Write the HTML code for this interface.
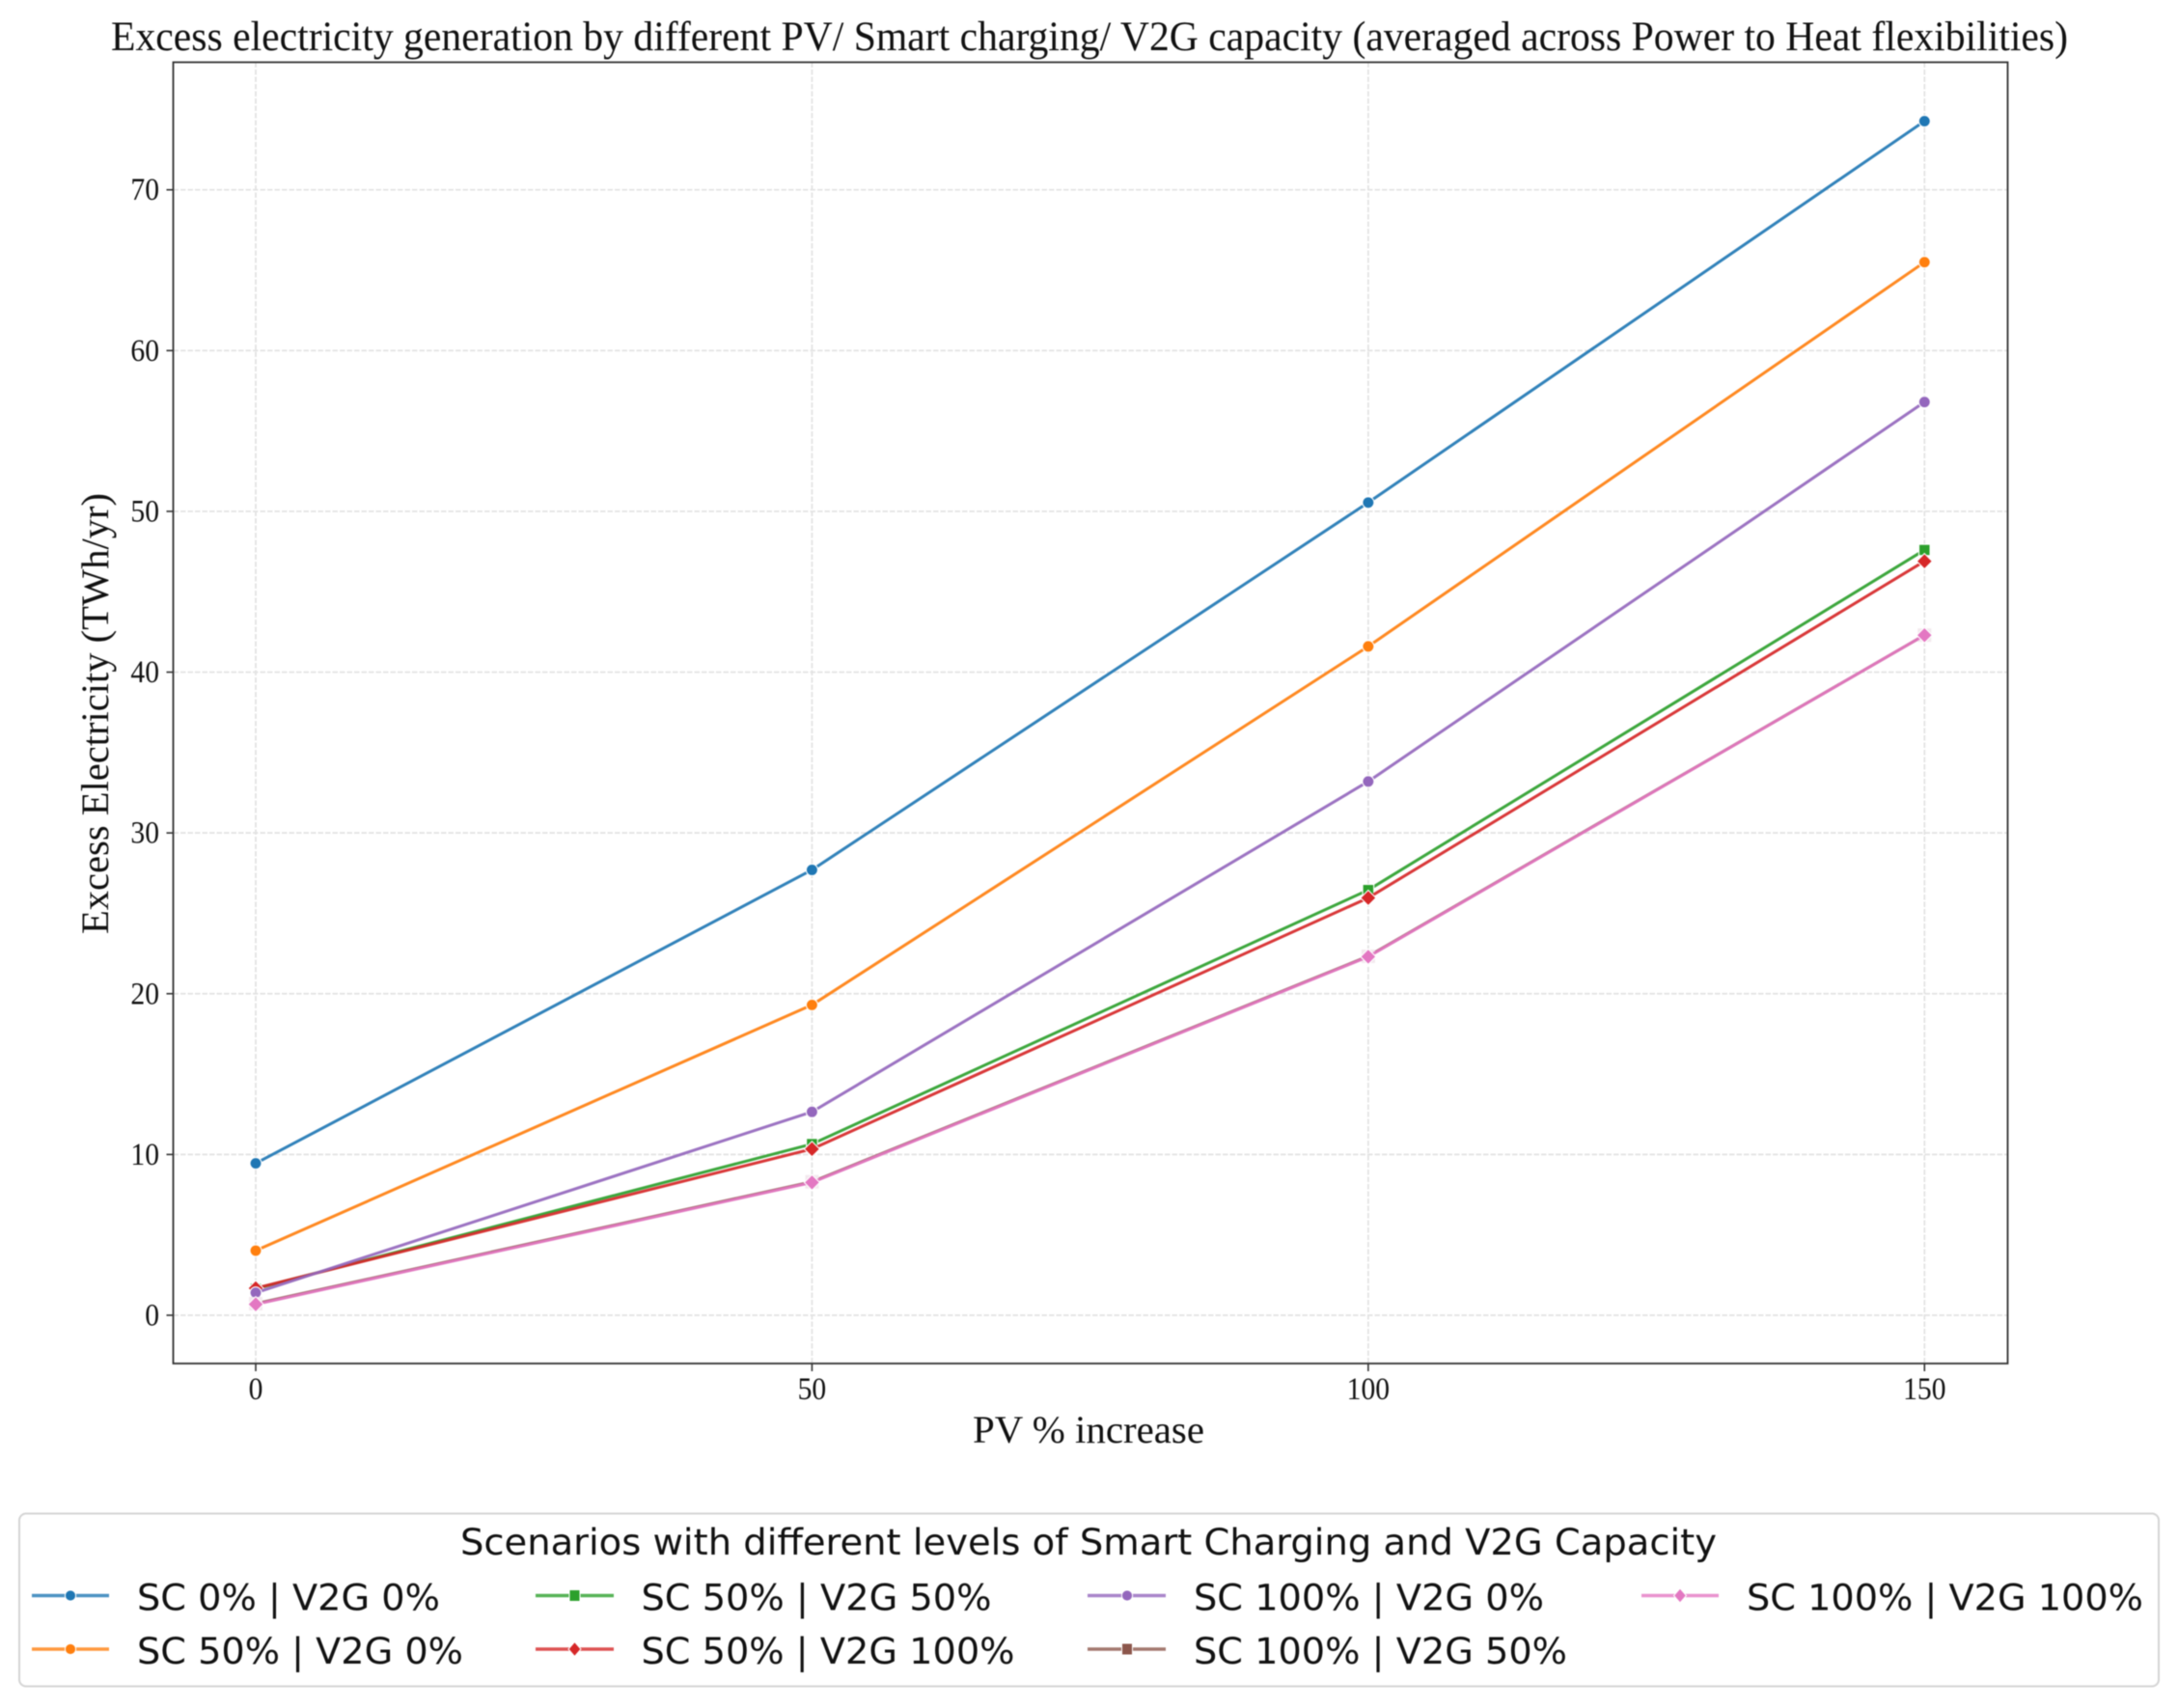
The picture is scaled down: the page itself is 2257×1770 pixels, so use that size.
<!DOCTYPE html>
<html lang="en">
<head>
<meta charset="utf-8">
<title>Excess electricity generation chart</title>
<style>
html,body{margin:0;padding:0;background:#fff;}
body{width:2257px;height:1770px;overflow:hidden;}
#chart{display:block;filter:blur(0.6px);}
.serif{font-family:"Liberation Serif","DejaVu Serif",serif;fill:#111;}
.sans{font-family:"DejaVu Sans","Liberation Sans",sans-serif;fill:#111;}
.legend-text{font-size:37px;}
</style>
</head>
<body>
<svg id="chart" xmlns="http://www.w3.org/2000/svg" width="2257" height="1770" viewBox="0 0 2257 1770">
  <rect x="0" y="0" width="2257" height="1770" fill="#fff"/>
  <text class="serif" x="115" y="52" font-size="43" textLength="2028" lengthAdjust="spacingAndGlyphs">Excess electricity generation by different PV/ Smart charging/ V2G capacity (averaged across Power to Heat flexibilities)</text>
  <g id="grid"></g>
  <g id="series"></g>
  <rect x="179.5" y="64.5" width="1901" height="1348.5" fill="none" stroke="#333" stroke-width="1.8"/>
  <g id="ticks"></g>
  <text class="serif" x="1008" y="1495" font-size="40" textLength="240" lengthAdjust="spacingAndGlyphs">PV % increase</text>
  <text class="serif" transform="translate(112 968) rotate(-90)" x="0" y="0" font-size="40" textLength="457" lengthAdjust="spacingAndGlyphs">Excess Electricity (TWh/yr)</text>

  <g>
    <rect x="20" y="1568.5" width="2217" height="179" rx="7" ry="7" fill="#fff" stroke="#d4d4d4" stroke-width="2"/>
    <text class="sans" x="477" y="1611" font-size="37.5" textLength="1302" lengthAdjust="spacingAndGlyphs">Scenarios with different levels of Smart Charging and V2G Capacity</text>

    <g>
      <line x1="33" x2="113" y1="1653.5" y2="1653.5" stroke="#1f77b4" stroke-width="3.6" stroke-opacity="0.8"/>
      <circle cx="73" cy="1653.5" r="5.6" fill="#1f77b4" stroke="#fff" stroke-width="1"/>
      <text class="sans legend-text" x="142" y="1668.5" textLength="314" lengthAdjust="spacingAndGlyphs">SC 0% | V2G 0%</text>
    </g>
    <g>
      <line x1="33" x2="113" y1="1709" y2="1709" stroke="#ff7f0e" stroke-width="3.6" stroke-opacity="0.8"/>
      <circle cx="73" cy="1709" r="5.6" fill="#ff7f0e" stroke="#fff" stroke-width="1"/>
      <text class="sans legend-text" x="142" y="1724" textLength="338" lengthAdjust="spacingAndGlyphs">SC 50% | V2G 0%</text>
    </g>
    <g>
      <line x1="555" x2="636" y1="1653.5" y2="1653.5" stroke="#2ca02c" stroke-width="3.6" stroke-opacity="0.8"/>
      <rect x="590" y="1647.5" width="11" height="12" fill="#2ca02c" stroke="#fff" stroke-width="1"/>
      <text class="sans legend-text" x="664.5" y="1668.5" textLength="363" lengthAdjust="spacingAndGlyphs">SC 50% | V2G 50%</text>
    </g>
    <g>
      <line x1="555" x2="636" y1="1709" y2="1709" stroke="#d62728" stroke-width="3.6" stroke-opacity="0.8"/>
      <polygon points="595.5,1701.5 602,1709 595.5,1716.5 589,1709" fill="#d62728" stroke="#fff" stroke-width="1"/>
      <text class="sans legend-text" x="664.5" y="1724" textLength="387" lengthAdjust="spacingAndGlyphs">SC 50% | V2G 100%</text>
    </g>
    <g>
      <line x1="1127" x2="1208" y1="1653.5" y2="1653.5" stroke="#9467bd" stroke-width="3.6" stroke-opacity="0.8"/>
      <circle cx="1168" cy="1653.5" r="5.6" fill="#9467bd" stroke="#fff" stroke-width="1"/>
      <text class="sans legend-text" x="1237" y="1668.5" textLength="363" lengthAdjust="spacingAndGlyphs">SC 100% | V2G 0%</text>
    </g>
    <g>
      <line x1="1127" x2="1208" y1="1709" y2="1709" stroke="#8c564b" stroke-width="3.6" stroke-opacity="0.8"/>
      <rect x="1162.5" y="1703" width="11" height="12" fill="#8c564b" stroke="#fff" stroke-width="1"/>
      <text class="sans legend-text" x="1237" y="1724" textLength="387" lengthAdjust="spacingAndGlyphs">SC 100% | V2G 50%</text>
    </g>
    <g>
      <line x1="1701" x2="1781" y1="1653.5" y2="1653.5" stroke="#e377c2" stroke-width="3.6" stroke-opacity="0.8"/>
      <polygon points="1741,1646 1747.5,1653.5 1741,1661 1734.5,1653.5" fill="#e377c2" stroke="#fff" stroke-width="1"/>
      <text class="sans legend-text" x="1810" y="1668.5" textLength="411" lengthAdjust="spacingAndGlyphs">SC 100% | V2G 100%</text>
    </g>
  </g>
</svg>
<script>
const categories = [0, 50, 100, 150];
const xTickLabels = ["0", "50", "100", "150"];
const yTickValues = [0, 10, 20, 30, 40, 50, 60, 70];
const yTickLabels = ["0", "10", "20", "30", "40", "50", "60", "70"];
const sc0V2g0 = [9.45, 27.7, 50.55, 74.27];
const sc50V2g0 = [4.02, 19.3, 41.6, 65.5];
const sc50V2g50 = [1.65, 10.65, 26.45, 47.6];
const sc50V2g100 = [1.68, 10.34, 25.96, 46.9];
const sc100V2g0 = [1.4, 12.65, 33.2, 56.8];
const sc100V2g50 = [0.72, 8.3, 22.33, 42.3];
const sc100V2g100 = [0.68, 8.26, 22.3, 42.3];

const NS = "http://www.w3.org/2000/svg";
const PLOT_LEFT = 179.5, PLOT_RIGHT = 2080.5, PLOT_TOP = 64.5, PLOT_BOTTOM = 1413;

function xAxis(v) { return 265 + (v - 0) * (1994.3 - 265) / 150; }
function yAxis(v) { return 1363 - (v - 0) * (1363 - 196.7) / 70; }

const gridLayer = document.getElementById("grid");
const tickLayer = document.getElementById("ticks");
const seriesLayer = document.getElementById("series");

function make(tag, parent, attrs) {
  const el = document.createElementNS(NS, tag);
  for (const k in attrs) el.setAttribute(k, attrs[k]);
  parent.appendChild(el);
  return el;
}

function fitTick(el, label) {
  el.setAttribute("textLength", String(label.length * 14.8));
  el.setAttribute("lengthAdjust", "spacingAndGlyphs");
}

categories.forEach(function (c, i) {
  const x = xAxis(c);
  const g = make("line", gridLayer, { x1: x, x2: x, y1: PLOT_TOP, y2: PLOT_BOTTOM, stroke: "#e2e2e2", "stroke-width": 1.7, "stroke-dasharray": "5.5 2" });
  
  
  const t = make("line", tickLayer, { x1: x, x2: x, y1: PLOT_BOTTOM, y2: PLOT_BOTTOM + 8, stroke: "#333", "stroke-width": 1.6 });
  
  
  const lab = make("text", tickLayer, { x: x, y: 1450, "text-anchor": "middle", "font-size": 33, class: "serif" });
  
  
  lab.textContent = xTickLabels[i];
  fitTick(lab, xTickLabels[i]);
});

yTickValues.forEach(function (v, i) {
  const y = yAxis(v);
  const g = make("line", gridLayer, { x1: PLOT_LEFT, x2: PLOT_RIGHT, y1: y, y2: y, stroke: "#e2e2e2", "stroke-width": 1.7, "stroke-dasharray": "5.5 2" });
  
  
  const t = make("line", tickLayer, { x1: PLOT_LEFT - 7, x2: PLOT_LEFT, y1: y, y2: y, stroke: "#333", "stroke-width": 1.6 });
  
  
  const lab = make("text", tickLayer, { x: 165, y: y + 10.5, "text-anchor": "end", "font-size": 33, class: "serif" });
  
  
  lab.textContent = yTickLabels[i];
  fitTick(lab, yTickLabels[i]);
});

function drawMarker(kind, parent, x, y, color) {
  let m;
  if (kind === "circle") {
    m = make("circle", parent, { cx: x, cy: y, r: 6 });
    m.setAttribute("fill", color);
    m.setAttribute("stroke", "#fff");
  } else if (kind === "square") {
    m = make("rect", parent, { x: x - 5.8, y: y - 5.8, width: 11.6, height: 11.6 });
    m.setAttribute("fill", color);
    m.setAttribute("stroke", "#fff");
  } else if (kind === "pale-square") {
    m = make("rect", parent, { x: x - 7, y: y - 7, width: 14, height: 14 });
    m.setAttribute("fill", "#f3e9ee");
    m.setAttribute("stroke", "none");
  } else {
    m = make("polygon", parent, { points: x + "," + (y - 8) + " " + (x + 8) + "," + y + " " + x + "," + (y + 8) + " " + (x - 8) + "," + y });
    m.setAttribute("fill", color);
    m.setAttribute("stroke", "#fff");
  }
  m.setAttribute("stroke-width", "1.1");
  
  
}

function drawSeries(name, values, color, kind) {
  const group = make("g", seriesLayer, {});
  
  
  const pts = values.map(function (v, i) { return xAxis(categories[i]) + "," + yAxis(v); }).join(" ");
  const line = make("polyline", group, { points: pts, fill: "none", stroke: color, "stroke-width": 3, "stroke-opacity": 0.92, "stroke-linejoin": "round" });
  
  
  values.forEach(function (v, i) {
    drawMarker(kind, group, xAxis(categories[i]), yAxis(v), color);
  });
}

drawSeries("series-sc0-v2g0", sc0V2g0, "#1f77b4", "circle");
drawSeries("series-sc50-v2g0", sc50V2g0, "#ff7f0e", "circle");
drawSeries("series-sc50-v2g50", sc50V2g50, "#2ca02c", "square");
drawSeries("series-sc50-v2g100", sc50V2g100, "#d62728", "diamond");
drawSeries("series-sc100-v2g0", sc100V2g0, "#9467bd", "circle");
drawSeries("series-sc100-v2g50", sc100V2g50, "#8c564b", "pale-square");
drawSeries("series-sc100-v2g100", sc100V2g100, "#e377c2", "diamond");
</script>
</body>
</html>
